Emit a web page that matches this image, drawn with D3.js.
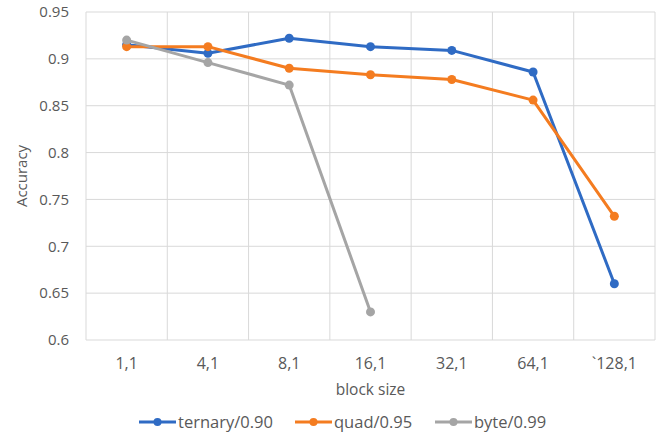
<!DOCTYPE html>
<html>
<head>
<meta charset="utf-8">
<script src="https://cdn.jsdelivr.net/npm/d3@7"></script>
<style>
  body { margin: 0; background: #fff; }
  text { font-family: "Open Sans", "Liberation Sans", sans-serif; fill: #595959; }
</style>
</head>
<body>
<script>
let categories = ["1,1", "4,1", "8,1", "16,1", "32,1", "64,1", "`128,1"]
let ternary = [0.915, 0.906, 0.922, 0.913, 0.909, 0.886, 0.660]
let quad = [0.913, 0.913, 0.890, 0.883, 0.878, 0.856, 0.732]
let byte = [0.920, 0.896, 0.872, 0.630]
let yTicks = [0.6, 0.65, 0.7, 0.75, 0.8, 0.85, 0.9, 0.95]

let series = [
  {name: "ternary/0.90", values: ternary, color: "#2F6BC4"},
  {name: "quad/0.95", values: quad, color: "#F47C20"},
  {name: "byte/0.99", values: byte, color: "#A5A5A5"}
]

let width = 664, height = 439
let margin = {left: 86, right: 9, top: 12, bottom: 99}

let svg = d3.select('body').append('svg')
  .attr('width', width)
  .attr('height', height)

let x = d3.scaleBand()
  .domain(categories)
  .range([margin.left, width - margin.right])

let y = d3.scaleLinear()
  .domain([0.6, 0.95])
  .range([height - margin.bottom, margin.top])

// gridlines
svg.append('g').selectAll('line')
  .data(yTicks)
  .enter().append('line')
  .attr('x1', margin.left).attr('x2', width - margin.right)
  .attr('y1', d => y(d)).attr('y2', d => y(d))
  .attr('stroke', '#d9d9d9').attr('stroke-width', 1)

let bounds = categories.map(c => x(c)).concat([x(categories[categories.length - 1]) + x.bandwidth()])
svg.append('g').selectAll('line')
  .data(bounds)
  .enter().append('line')
  .attr('x1', d => d).attr('x2', d => d)
  .attr('y1', margin.top).attr('y2', height - margin.bottom)
  .attr('stroke', '#d9d9d9').attr('stroke-width', 1)

// y tick labels
svg.append('g').selectAll('text')
  .data(yTicks)
  .enter().append('text')
  .attr('x', 69)
  .attr('y', d => y(d))
  .attr('dy', '0.35em')
  .attr('text-anchor', 'end')
  .style('font-size', '15px')
  .text(d => d)

// x tick labels
svg.append('g').selectAll('text')
  .data(categories)
  .enter().append('text')
  .attr('x', d => x(d) + x.bandwidth() / 2)
  .attr('y', 369)
  .attr('text-anchor', 'middle')
  .style('font-size', '16px')
  .text(d => d)

svg.append('text')
  .attr('transform', 'translate(27,' + ((margin.top + height - margin.bottom) / 2) + ') rotate(-90)')
  .attr('text-anchor', 'middle')
  .style('font-size', '15px')
  .text('Accuracy')

svg.append('text')
  .attr('x', (margin.left + width - margin.right) / 2)
  .attr('y', 395)
  .attr('text-anchor', 'middle')
  .style('font-size', '15.5px')
  .text('block size')

let line = d3.line()
  .x((d, i) => x(categories[i]) + x.bandwidth() / 2)
  .y(d => y(d))

let plot = svg.append('g')
series.forEach(s => {
  plot.append('path')
    .datum(s.values)
    .attr('d', line)
    .attr('fill', 'none')
    .attr('stroke', s.color)
    .attr('stroke-width', 3)
    .attr('stroke-linejoin', 'round')
  plot.selectAll(null)
    .data(s.values)
    .enter().append('circle')
    .attr('cx', (d, i) => x(categories[i]) + x.bandwidth() / 2)
    .attr('cy', d => y(d))
    .attr('r', 4.5)
    .attr('fill', s.color)
})

// legend
let legendX = [139, 295, 435]
let legend = svg.append('g')
series.forEach((s, i) => {
  let g = legend.append('g').attr('transform', 'translate(' + legendX[i] + ',422)')
  g.append('line').attr('x1', 0).attr('x2', 37).attr('y1', 0).attr('y2', 0)
    .attr('stroke', s.color).attr('stroke-width', 3)
  g.append('circle').attr('cx', 18.5).attr('cy', 0).attr('r', 4).attr('fill', s.color)
  g.append('text').attr('x', 39).attr('y', 0).attr('dy', '0.35em')
    .style('font-size', '16.5px').text(s.name)
})
</script>
</body>
</html>
